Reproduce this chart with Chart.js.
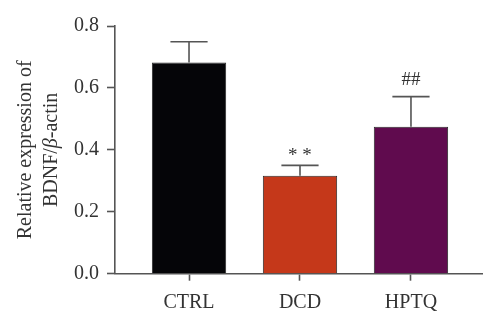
<!DOCTYPE html>
<html>
<head>
<meta charset="utf-8">
<script src="https://cdn.jsdelivr.net/npm/chart.js@4/dist/chart.umd.min.js"></script>
<style>
  html, body { margin: 0; padding: 0; background: #fff; }
  #wrap { width: 500px; height: 330px; }
</style>
</head>
<body>
<div id="wrap"><canvas id="c" width="500" height="330"></canvas></div>
<script>
// ---- data ----
const categories = ['CTRL', 'DCD', 'HPTQ'];
const means = [0.682, 0.316, 0.475];
const errorTops = [0.749, 0.350, 0.572];
const marks = ['', '**', '##'];
const barColors = ['#050508', '#c5381a', '#600b4e'];
const yTicks = [0.0, 0.2, 0.4, 0.6, 0.8];
const yTitleLine1 = 'Relative expression of';
const yTitleLine2 = [['BDNF/', false], ['β', true], ['-actin', false]];

const FONT = "'Liberation Serif', 'Times New Roman', serif";
const AXIS = '#555555';
const TEXT = '#333333';

const points = categories.map((c, i) => ({ x: i, y: means[i] }));

const errorBarPlugin = {
  id: 'errorBars',
  afterDatasetsDraw(chart) {
    const ctx = chart.ctx;
    const ys = chart.scales.y;
    const meta = chart.getDatasetMeta(0);
    ctx.save();
    ctx.strokeStyle = '#555555';
    ctx.lineWidth = 1.6;
    meta.data.forEach((bar, i) => {
      const cx = bar.x;
      const yTop = ys.getPixelForValue(errorTops[i]);
      const yBase = ys.getPixelForValue(means[i]);
      const half = bar.width / 4;
      ctx.beginPath();
      ctx.moveTo(cx, yBase);
      ctx.lineTo(cx, yTop);
      ctx.moveTo(cx - half, yTop);
      ctx.lineTo(cx + half, yTop);
      ctx.stroke();
      if (marks[i]) {
        ctx.fillStyle = TEXT;
        ctx.textAlign = 'center';
        ctx.textBaseline = 'alphabetic';
        const gap = marks[i] === '**' ? 4 : 12;
        ctx.font = '19px ' + FONT;
        const txt = marks[i] === '**' ? '* *' : marks[i];
        ctx.fillText(txt, cx, yTop - gap);
      }
    });
    ctx.restore();
  }
};

const yTitlePlugin = {
  id: 'yTitle',
  afterDraw(chart) {
    const ctx = chart.ctx;
    const area = chart.chartArea;
    const cy = (area.top + area.bottom) / 2;
    ctx.save();
    ctx.fillStyle = TEXT;
    ctx.rotate(-Math.PI / 2);
    ctx.textBaseline = 'middle';
    ctx.font = '20px ' + FONT;
    ctx.textAlign = 'center';
    ctx.fillText(yTitleLine1, -cy, 26);
    let total = 0;
    const widths = yTitleLine2.map(([t, it]) => {
      ctx.font = (it ? 'italic ' : '') + '20px ' + FONT;
      const w = ctx.measureText(t).width;
      total += w;
      return w;
    });
    let x = -cy - total / 2;
    ctx.textAlign = 'left';
    yTitleLine2.forEach(([t, it], i) => {
      ctx.font = (it ? 'italic ' : '') + '20px ' + FONT;
      ctx.fillText(t, x, 52);
      x += widths[i];
    });
    ctx.restore();
  }
};

new Chart(document.getElementById('c'), {
  type: 'bar',
  data: {
    datasets: [{
      data: points,
      backgroundColor: barColors,
      borderColor: '#2a2a2a',
      borderWidth: 1,
      borderSkipped: 'bottom',
      barPercentage: 0.67,
      categoryPercentage: 1.0
    }]
  },
  options: {
    responsive: false,
    animation: false,
    devicePixelRatio: 1,
    layout: { padding: { top: 26, right: 18, left: 0, bottom: 0 } },
    plugins: { legend: { display: false }, tooltip: { enabled: false } },
    scales: {
      x: {
        type: 'linear',
        offset: false,
        min: -0.667,
        max: 2.64,
        afterBuildTicks(scale) { scale.ticks = categories.map((c, i) => ({ value: i })); },
        afterFit(scale) { scale.height = 56.3; },
        ticks: {
          callback: (v) => categories[v],
          font: { family: FONT, size: 20 },
          color: TEXT,
          padding: 10,
          maxRotation: 0,
          autoSkip: false
        },
        grid: { display: true, offset: false, drawOnChartArea: false, drawTicks: true, tickLength: 7, tickColor: AXIS, tickWidth: 1.6 },
        border: { display: true, color: AXIS, width: 1.6 }
      },
      y: {
        min: 0,
        max: 0.8,
        afterBuildTicks(scale) { scale.ticks = yTicks.map(v => ({ value: v })); },
        afterFit(scale) { scale.width = 115; },
        ticks: {
          callback: (v) => v.toFixed(1),
          font: { family: FONT, size: 20 },
          color: TEXT,
          padding: 8
        },
        grid: { display: true, drawOnChartArea: false, drawTicks: true, tickLength: 8, tickColor: AXIS, tickWidth: 1.6 },
        border: { display: true, color: AXIS, width: 1.6 }
      }
    }
  },
  plugins: [errorBarPlugin, yTitlePlugin]
});
</script>
</body>
</html>
